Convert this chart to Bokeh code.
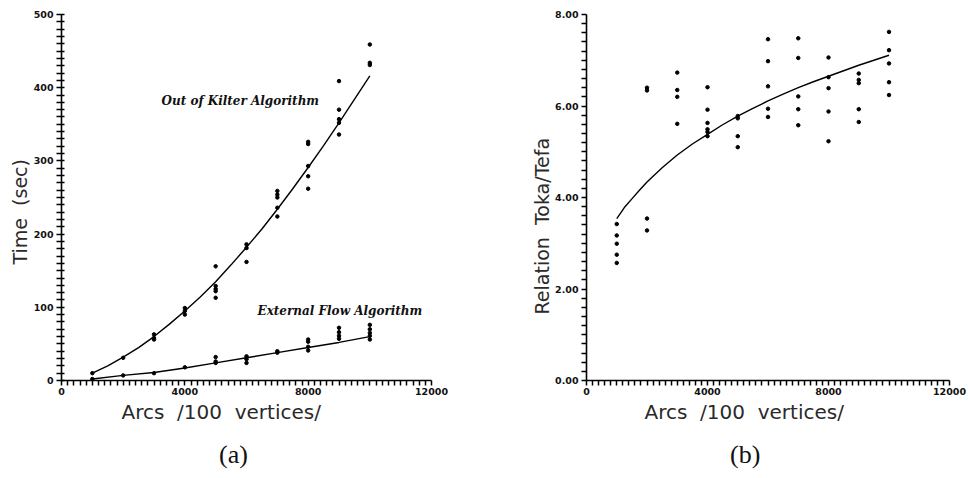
from bokeh.plotting import figure
from bokeh.layouts import row
from bokeh.models import (Range1d, SingleIntervalTicker, FixedTicker, Label,
                          CustomJSTickFormatter, Title, LinearAxis)
from bokeh.embed import file_html
from bokeh.resources import INLINE

# ---------------- data ----------------
# (a) Out of Kilter algorithm: measured points
okf_x = [1000, 2000, 3000, 3000, 3000, 4000, 4000, 4000,
         5000, 5000, 5000, 5000, 5000, 6000, 6000, 6000,
         7000, 7000, 7000, 7000, 7000, 8000, 8000, 8000, 8000, 8000,
         9000, 9000, 9000, 9000, 9000, 10000, 10000, 10000]
okf_y = [10, 31, 63, 58, 56, 99, 95, 90,
         156, 129, 125, 122, 113, 186, 181, 162,
         259, 254, 250, 236, 224, 326, 323, 293, 279, 262,
         409, 370, 357, 352, 336, 459, 434, 431]
# fitted curve
okf_fit_x = [1000, 1500, 2000, 2500, 3000, 3500, 4000, 4500, 5000, 5500,
             6000, 6500, 7000, 7500, 8000, 8500, 9000, 9500, 10000]
okf_fit_y = [10, 20, 32, 45, 60, 77, 95, 114, 135, 158,
             182, 207, 234, 262, 291, 321, 352, 384, 416]

# (a) External Flow algorithm: measured points
efa_x = [1000, 2000, 3000, 4000, 5000, 5000, 5000, 6000, 6000, 6000,
         7000, 7000, 8000, 8000, 8000, 8000, 9000, 9000, 9000, 9000,
         10000, 10000, 10000, 10000, 10000]
efa_y = [2, 7, 10, 18, 32, 26, 24, 33, 29, 24,
         40, 38, 56, 53, 46, 41, 72, 66, 61, 57,
         76, 70, 65, 61, 56]
efa_fit_x = [1000, 2000, 3000, 4000, 5000, 6000, 7000, 8000, 9000, 10000]
efa_fit_y = [2, 7, 11, 17, 24, 31, 38, 45, 52, 60]

# (b) Relation Toka/Tefa
rel_x = [1000, 1000, 1000, 1000, 1000, 2000, 2000, 2000, 2000,
         3000, 3000, 3000, 3000, 4000, 4000, 4000, 4000, 4000, 4000,
         5000, 5000, 5000, 5000, 6000, 6000, 6000, 6000, 6000,
         7000, 7000, 7000, 7000, 7000, 8000, 8000, 8000, 8000, 8000,
         9000, 9000, 9000, 9000, 9000, 10000, 10000, 10000, 10000, 10000]
rel_y = [3.42, 3.17, 2.99, 2.75, 2.57, 6.40, 6.34, 3.54, 3.28,
         6.73, 6.35, 6.20, 5.61, 6.41, 5.92, 5.63, 5.49, 5.43, 5.34,
         5.78, 5.73, 5.34, 5.10, 7.46, 6.98, 6.43, 5.94, 5.76,
         7.48, 7.05, 6.21, 5.93, 5.58, 7.06, 6.63, 6.39, 5.88, 5.23,
         6.71, 6.57, 6.50, 5.93, 5.65, 7.62, 7.22, 6.93, 6.52, 6.24]
rel_fit_x = [1000, 1250, 1500, 1750, 2000, 2500, 3000, 3500, 4000, 4500, 5000,
             5500, 6000, 6500, 7000, 7500, 8000, 8500, 9000, 9500, 10000]
rel_fit_y = [3.54, 3.78, 3.97, 4.16, 4.34, 4.65, 4.93, 5.17, 5.38, 5.59, 5.78,
             5.95, 6.11, 6.26, 6.40, 6.53, 6.65, 6.77, 6.89, 7.00, 7.11]

# tick layout: labelled step / small tick step
x_label_step, x_tick_step = 4000, 200
ya_label_step, ya_tick_step = 100, 10
yb_label_step, yb_tick_step = 2, 0.2

NB = "\u00a0"
x_label = "Arcs" + NB * 2 + "/100" + NB * 2 + "vertices/"
y_label_a = "Time" + NB * 2 + "(sec)"
y_label_b = "Relation" + NB * 2 + "Toka/Tefa"
note_okf = "Out of Kilter Algorithm"
note_efa = "External Flow Algorithm"
panel_a = "(a)"
panel_b = "(b)"

TICK_FONT = "DejaVu Sans"
LABEL_FONT = "DejaVu Sans"
NOTE_FONT = "DejaVu Serif"
PANEL_FONT = "Liberation Serif"


def every(step, decimals):
    # label only every `step`; the other ticks stay as small unlabeled marks
    return CustomJSTickFormatter(args=dict(step=step, dec=decimals), code="""
        const r = tick / step;
        return Math.abs(r - Math.round(r)) < 1e-6 ? tick.toFixed(dec) : "";
    """)


def style_axes(p, y_tick_step, y_label_step, y_dec, y_in, y_out):
    p.xaxis.ticker = SingleIntervalTicker(interval=x_tick_step, num_minor_ticks=0)
    p.xaxis.formatter = every(x_label_step, 0)
    p.yaxis.ticker = SingleIntervalTicker(interval=y_tick_step, num_minor_ticks=0)
    p.yaxis.formatter = every(y_label_step, y_dec)
    for ax in (p.xaxis[0], p.yaxis[0]):
        ax.axis_line_color = "black"
        ax.axis_line_width = 1.6
        ax.major_tick_line_color = "black"
        ax.major_tick_line_width = 1.5
        ax.minor_tick_line_color = None
        ax.major_label_text_font = TICK_FONT
        ax.major_label_text_font_style = "bold"
        ax.major_label_text_font_size = "9.5px"
        ax.major_label_text_color = "#111111"
    p.xaxis.major_tick_out = 5
    p.xaxis.major_tick_in = 0
    p.xaxis.major_label_standoff = 2
    p.yaxis.major_tick_out = y_out
    p.yaxis.major_tick_in = y_in
    p.yaxis.major_label_standoff = 3
    p.xgrid.visible = False
    p.ygrid.visible = False
    p.outline_line_color = None


def add_title(p, text, side, offset, size, font, standoff=0, color="#2a2a2a"):
    p.add_layout(Title(text=text, align="left", offset=offset, standoff=standoff,
                       text_font=font, text_font_size=size, text_font_style="normal",
                       text_color=color), side)


def add_panel_tag(p, text, standoff):
    # an extra, invisible axis that only carries the panel tag "(a)" / "(b)"
    ax = LinearAxis(ticker=FixedTicker(ticks=[]), axis_line_color=None,
                    major_tick_line_color=None, minor_tick_line_color=None,
                    major_label_text_font_size="0px",
                    axis_label=text, axis_label_standoff=standoff,
                    axis_label_text_font=PANEL_FONT, axis_label_text_font_size="26px",
                    axis_label_text_font_style="normal", axis_label_text_color="#111111")
    p.add_layout(ax, "below")


# ---------------- (a) ----------------
p1 = figure(width=480, height=471, output_backend="svg", toolbar_location=None,
            x_range=Range1d(0, 12000), y_range=Range1d(0, 500),
            min_border_left=61, min_border_right=49, min_border_top=14, min_border_bottom=91,
            background_fill_color="white", border_fill_color="white")
style_axes(p1, ya_tick_step, ya_label_step, 0, 3, 5)
p1.line(okf_fit_x, okf_fit_y, line_color="black", line_width=1.4)
p1.line(efa_fit_x, efa_fit_y, line_color="black", line_width=1.4)
p1.scatter(okf_x, okf_y, size=3.5, color="black")
p1.scatter(efa_x, efa_y, size=3.5, color="black")

p1.add_layout(Label(x=3243, y=382, text=note_okf, text_font=NOTE_FONT,
                    text_font_size="12px", text_font_style="bold italic",
                    text_align="left", text_baseline="middle", text_color="#111111"))
p1.add_layout(Label(x=6357, y=95, text=note_efa, text_font=NOTE_FONT,
                    text_font_size="12px", text_font_style="bold italic",
                    text_align="left", text_baseline="middle", text_color="#111111"))
add_title(p1, x_label, "below", 60, "20px", LABEL_FONT)
add_panel_tag(p1, panel_a + NB * 4, 16)
add_title(p1, y_label_a, "left", 116, "19px", LABEL_FONT)

# ---------------- (b) ----------------
p2 = figure(width=486, height=471, output_backend="svg", toolbar_location=None,
            x_range=Range1d(0, 12000), y_range=Range1d(0, 8),
            min_border_left=106, min_border_right=17, min_border_top=14, min_border_bottom=91,
            background_fill_color="white", border_fill_color="white")
style_axes(p2, yb_tick_step, yb_label_step, 2, 0, 5)
p2.line(rel_fit_x, rel_fit_y, line_color="black", line_width=1.4)
p2.scatter(rel_x, rel_y, size=3.5, color="black")

add_title(p2, x_label, "below", 58, "20px", LABEL_FONT)
add_panel_tag(p2, panel_b + NB * 7, 16)
add_title(p2, y_label_b, "left", 66, "19px", LABEL_FONT)

layout = row(p1, p2)
open("out.html", "w").write(file_html(layout, INLINE))
